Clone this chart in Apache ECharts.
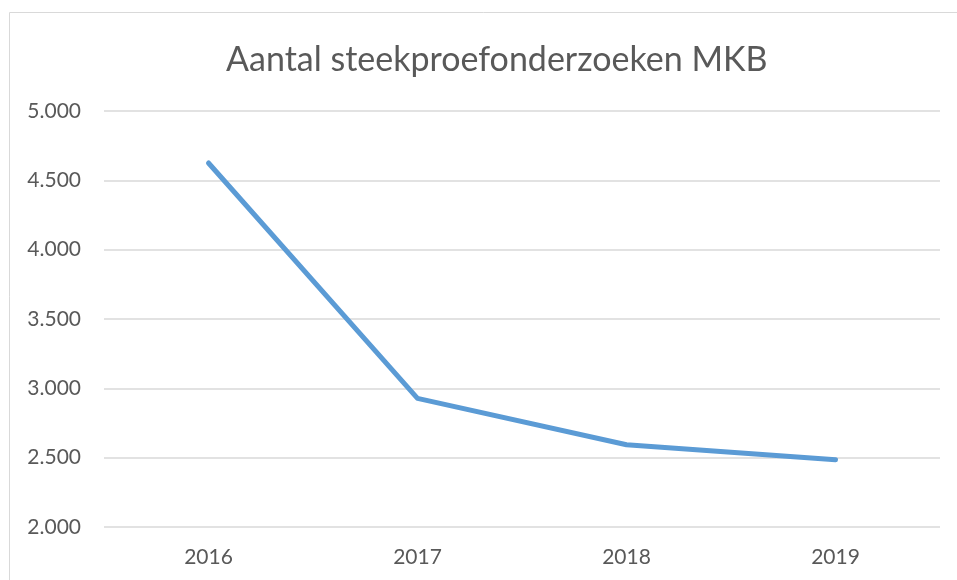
<!DOCTYPE html>
<html>
<head>
<meta charset="utf-8">
<script src="https://cdn.jsdelivr.net/npm/echarts@6/dist/echarts.min.js"></script>
<style>
  html, body { margin: 0; padding: 0; background: #fff; }
  #main { width: 957px; height: 580px; }
</style>
</head>
<body>
<div id="main"></div>
<script>
var years = ['2016', '2017', '2018', '2019'];
var onderzoeken = [4625, 2928, 2593, 2485];

var mychart = echarts.init(document.getElementById('main'));

function nlFormat(val) {
  return String(val).replace(/\B(?=(\d{3})+(?!\d))/g, '.');
}

var option = {
  animation: false,
  textStyle: { fontFamily: 'Lato' },
  title: {
    text: 'Aantal steekproefonderzoeken MKB',
    left: 221,
    top: 38,
    textStyle: { color: '#595959', fontSize: 34, fontWeight: 'normal', fontFamily: 'Lato' }
  },
  graphic: [{
    type: 'rect',
    silent: true,
    shape: { x: 9.5, y: 12.5, width: 1000, height: 1000 },
    style: { fill: 'none', stroke: '#d9d9d9', lineWidth: 1 }
  }],
  grid: { left: 104, right: 17, top: 111, bottom: 53 },
  xAxis: {
    type: 'category',
    data: years,
    boundaryGap: true,
    axisLine: { show: false },
    axisTick: { show: false },
    axisLabel: { color: '#595959', fontSize: 21, margin: 20 }
  },
  yAxis: {
    type: 'value',
    min: 2000,
    max: 5000,
    interval: 500,
    axisLine: { show: false },
    axisTick: { show: false },
    axisLabel: { color: '#595959', fontSize: 21, margin: 23, formatter: nlFormat },
    splitLine: { lineStyle: { color: '#d9d9d9', width: 1.5 } }
  },
  series: [{
    type: 'line',
    data: onderzoeken,
    showSymbol: false,
    lineStyle: { color: '#5b9bd5', width: 5, cap: 'round', join: 'round' }
  }]
};

mychart.setOption(option);
</script>
</body>
</html>
